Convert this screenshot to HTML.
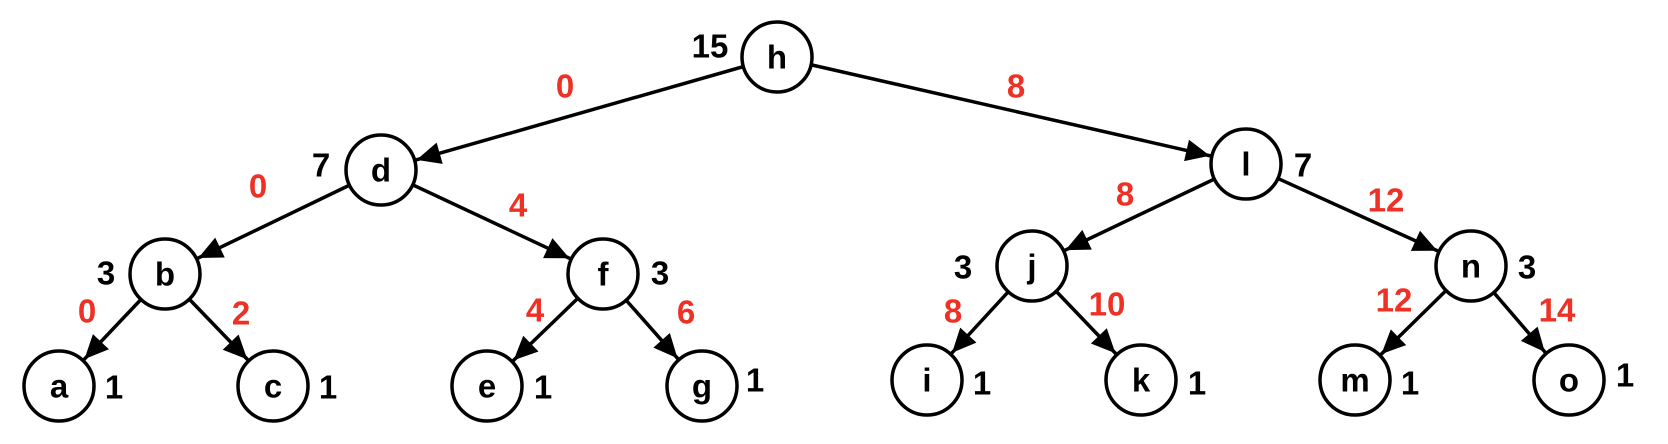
<!DOCTYPE html>
<html><head><meta charset="utf-8"><style>
html,body{margin:0;padding:0;background:#fff;}
svg{display:block;}
text{font-family:"Liberation Sans",sans-serif;font-weight:bold;font-size:33px;}
.n{fill:#000;text-anchor:middle;dominant-baseline:central;}
.w{fill:#000;dominant-baseline:central;text-anchor:middle;}
.r{fill:#ee3124;dominant-baseline:central;text-anchor:middle;}
</style></head><body>
<svg width="1668" height="444" viewBox="0 0 1668 444" xmlns="http://www.w3.org/2000/svg">
<defs>
<marker id="ar" markerUnits="userSpaceOnUse" markerWidth="120" markerHeight="40" viewBox="-80 -20 120 40" refX="0" refY="0" orient="auto">
<path d="M-61,-11 L-37,0 L-61,11 Z" fill="#000"/>
</marker>
</defs>
<g stroke="#000" stroke-width="3.5" marker-end="url(#ar)">
<line x1="777" y1="57" x2="381" y2="170"/>
<line x1="777" y1="57" x2="1246" y2="164"/>
<line x1="381" y1="170" x2="165" y2="274"/>
<line x1="381" y1="170" x2="603" y2="274"/>
<line x1="1246" y1="164" x2="1032" y2="266"/>
<line x1="1246" y1="164" x2="1471" y2="266"/>
<line x1="165" y1="274" x2="59" y2="386"/>
<line x1="165" y1="274" x2="273" y2="386"/>
<line x1="603" y1="274" x2="487" y2="386"/>
<line x1="603" y1="274" x2="702" y2="386"/>
<line x1="1032" y1="266" x2="927" y2="380"/>
<line x1="1032" y1="266" x2="1141" y2="380"/>
<line x1="1471" y1="266" x2="1355" y2="380"/>
<line x1="1471" y1="266" x2="1569" y2="380"/>
</g>
<g fill="#fff" stroke="#000" stroke-width="3.5">
<circle cx="777" cy="57" r="35"/>
<circle cx="381" cy="170" r="35"/>
<circle cx="1246" cy="164" r="35"/>
<circle cx="165" cy="274" r="35"/>
<circle cx="603" cy="274" r="35"/>
<circle cx="1032" cy="266" r="35"/>
<circle cx="1471" cy="266" r="35"/>
<circle cx="59" cy="386" r="35"/>
<circle cx="273" cy="386" r="35"/>
<circle cx="487" cy="386" r="35"/>
<circle cx="702" cy="386" r="35"/>
<circle cx="927" cy="380" r="35"/>
<circle cx="1141" cy="380" r="35"/>
<circle cx="1355" cy="380" r="35"/>
<circle cx="1569" cy="380" r="35"/>
</g>
<g class="n">
<text class="n" x="777" y="57">h</text>
<text class="n" x="381" y="170">d</text>
<text class="n" x="1246" y="164">l</text>
<text class="n" x="165" y="274">b</text>
<text class="n" x="603" y="274">f</text>
<text class="n" x="1032" y="266">j</text>
<text class="n" x="1471" y="266">n</text>
<text class="n" x="59" y="386">a</text>
<text class="n" x="273" y="386">c</text>
<text class="n" x="487" y="386">e</text>
<text class="n" x="702" y="386">g</text>
<text class="n" x="927" y="380">i</text>
<text class="n" x="1141" y="380">k</text>
<text class="n" x="1355" y="380">m</text>
<text class="n" x="1569" y="380">o</text>
</g>
<text class="w" x="710" y="46">15</text>
<text class="w" x="321" y="165">7</text>
<text class="w" x="106" y="273">3</text>
<text class="w" x="660" y="273">3</text>
<text class="w" x="114" y="387">1</text>
<text class="w" x="328" y="387">1</text>
<text class="w" x="543" y="387">1</text>
<text class="w" x="755" y="380">1</text>
<text class="w" x="1303" y="165">7</text>
<text class="w" x="963" y="267">3</text>
<text class="w" x="1527" y="267">3</text>
<text class="w" x="982" y="383">1</text>
<text class="w" x="1197" y="383">1</text>
<text class="w" x="1410" y="383">1</text>
<text class="w" x="1625" y="375">1</text>
<text class="r" x="565" y="86">0</text>
<text class="r" x="258" y="186">0</text>
<text class="r" x="518" y="205">4</text>
<text class="r" x="87" y="311">0</text>
<text class="r" x="241" y="313">2</text>
<text class="r" x="535" y="310">4</text>
<text class="r" x="686" y="312">6</text>
<text class="r" x="1016" y="86">8</text>
<text class="r" x="1125" y="194">8</text>
<text class="r" x="1386" y="200">12</text>
<text class="r" x="953" y="311">8</text>
<text class="r" x="1107" y="304">10</text>
<text class="r" x="1394" y="300">12</text>
<text class="r" x="1557" y="310">14</text>
</svg>
</body></html>
